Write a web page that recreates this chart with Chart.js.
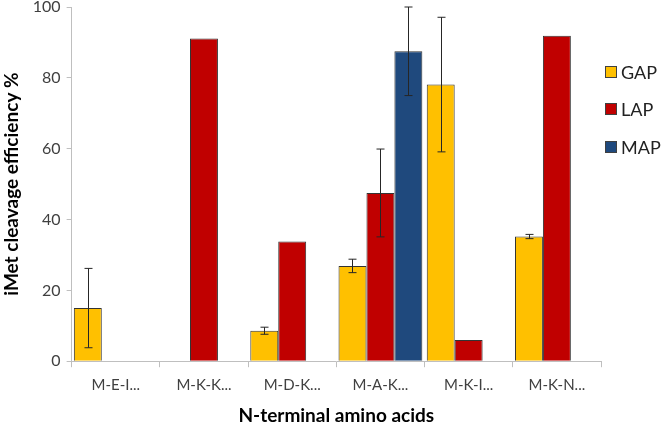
<!DOCTYPE html>
<html>
<head>
<meta charset="utf-8">
<script src="https://cdn.jsdelivr.net/npm/chart.js@4"></script>
<style>
  html, body { margin: 0; padding: 0; background: #fff; }
  #wrap { position: relative; width: 666px; height: 425px; }
  #legend { position: absolute; left: 605px; top: 53px; font-family: Lato, sans-serif; font-size: 18px; color: #222; }
  .lg-item { display: flex; align-items: center; height: 37.5px; }
  .lg-box { width: 10px; height: 10px; border: 1px solid #404040; margin-right: 4px; }
</style>
</head>
<body>
<div id="wrap">
  <canvas id="c" width="666" height="425"></canvas>
  <div id="legend"></div>
</div>
<script>
'use strict';

// ── Data ─────────────────────────────────────────────────────────────────────

var categories = ['M-E-I...', 'M-K-K...', 'M-D-K...', 'M-A-K...', 'M-K-I...', 'M-K-N...'];

var gapValues = [15.0, null, 8.6, 26.9, 78.1, 35.2];
var gapErrors = [11.2, 0, 1.0, 1.9, 19.0, 0.6];

var lapValues = [null, 91.1, 33.8, 47.5, 6.0, 91.9];
var lapErrors = [0, 0, 0, 12.4, 0, 0];

var mapValues = [null, null, null, 87.5, null, null];
var mapErrors = [0, 0, 0, 12.5, 0, 0];

var yTicks = [0, 20, 40, 60, 80, 100];

// ── Error bar plugin ─────────────────────────────────────────────────────────

var errorBars = {
  id: 'errorBars',
  afterDatasetsDraw: function (chart) {
    var ctx = chart.ctx;
    var yScale = chart.scales.y;
    chart.data.datasets.forEach(function (ds, di) {
      var meta = chart.getDatasetMeta(di);
      if (!ds.errors) return;
      meta.data.forEach(function (bar, i) {
        var v = ds.data[i], e = ds.errors[i];
        if (v == null || !e) return;
        var yTop = yScale.getPixelForValue(v + e);
        var yBot = yScale.getPixelForValue(v - e);
        var x = Math.round(bar.x) + 0.5;
        ctx.save();
        ctx.strokeStyle = '#262626';
        ctx.lineWidth = 1;
        ctx.beginPath();
        ctx.moveTo(x, yTop); ctx.lineTo(x, yBot);
        ctx.moveTo(x - 4, yTop); ctx.lineTo(x + 4, yTop);
        ctx.moveTo(x - 4, yBot); ctx.lineTo(x + 4, yBot);
        ctx.stroke();
        ctx.restore();
      });
    });
  }
};

// ── Chart ────────────────────────────────────────────────────────────────────

var datasets = [
  { label: 'GAP', data: gapValues, errors: gapErrors, backgroundColor: '#FFC000' },
  { label: 'LAP', data: lapValues, errors: lapErrors, backgroundColor: '#C00000' },
  { label: 'MAP', data: mapValues, errors: mapErrors, backgroundColor: '#1F497D' }
];
datasets.forEach(function (d) {
  d.borderColor = '#333333';
  d.borderWidth = 1;
  d.borderSkipped = 'bottom';
  d.categoryPercentage = 0.95;
  d.barPercentage = 1.0;
});

var chart = new Chart(document.getElementById('c'), {
  type: 'bar',
  data: { labels: categories, datasets: datasets },
  options: {
    responsive: false,
    animation: false,
    devicePixelRatio: 1,
    layout: { padding: { top: 7, right: 65, left: 0, bottom: -2 } },
    plugins: {
      legend: { display: false },
      tooltip: { enabled: false }
    },
    scales: {
      x: {
        grid: { display: true, drawOnChartArea: false, offset: true, color: '#bfbfbf', tickLength: 6 },
        border: { color: '#bfbfbf', width: 1 },
        ticks: { color: '#404040', font: { family: 'Lato', size: 15 }, padding: 9, maxRotation: 0 },
        title: { display: true, text: 'N-terminal amino acids', color: '#000', font: { family: 'Lato', size: 19, weight: 'bold' }, padding: { top: 1, bottom: 0 } }
      },
      y: {
        min: 0,
        max: 100,
        afterBuildTicks: function (axis) { axis.ticks = yTicks.map(function (v) { return { value: v }; }); },
        afterFit: function (axis) { axis.paddingTop = 0; axis.paddingBottom = 0; },
        grid: { display: true, drawOnChartArea: false, color: '#bfbfbf', tickLength: 5 },
        border: { color: '#bfbfbf', width: 1 },
        ticks: { color: '#404040', font: { family: 'Lato', size: 16 }, padding: 6 },
        title: { display: true, text: 'iMet cleavage efficiency %', color: '#000', font: { family: 'Lato', size: 19, weight: 'bold' }, padding: { top: 0, bottom: 4 } }
      }
    }
  },
  plugins: [errorBars]
});

// ── Legend ───────────────────────────────────────────────────────────────────

var legend = document.getElementById('legend');
datasets.forEach(function (d) {
  var item = document.createElement('div');
  item.className = 'lg-item';
  item.innerHTML = '<div class="lg-box" style="background:' + d.backgroundColor + '"></div><span>' + d.label + '</span>';
  legend.appendChild(item);
});
</script>
</body>
</html>
